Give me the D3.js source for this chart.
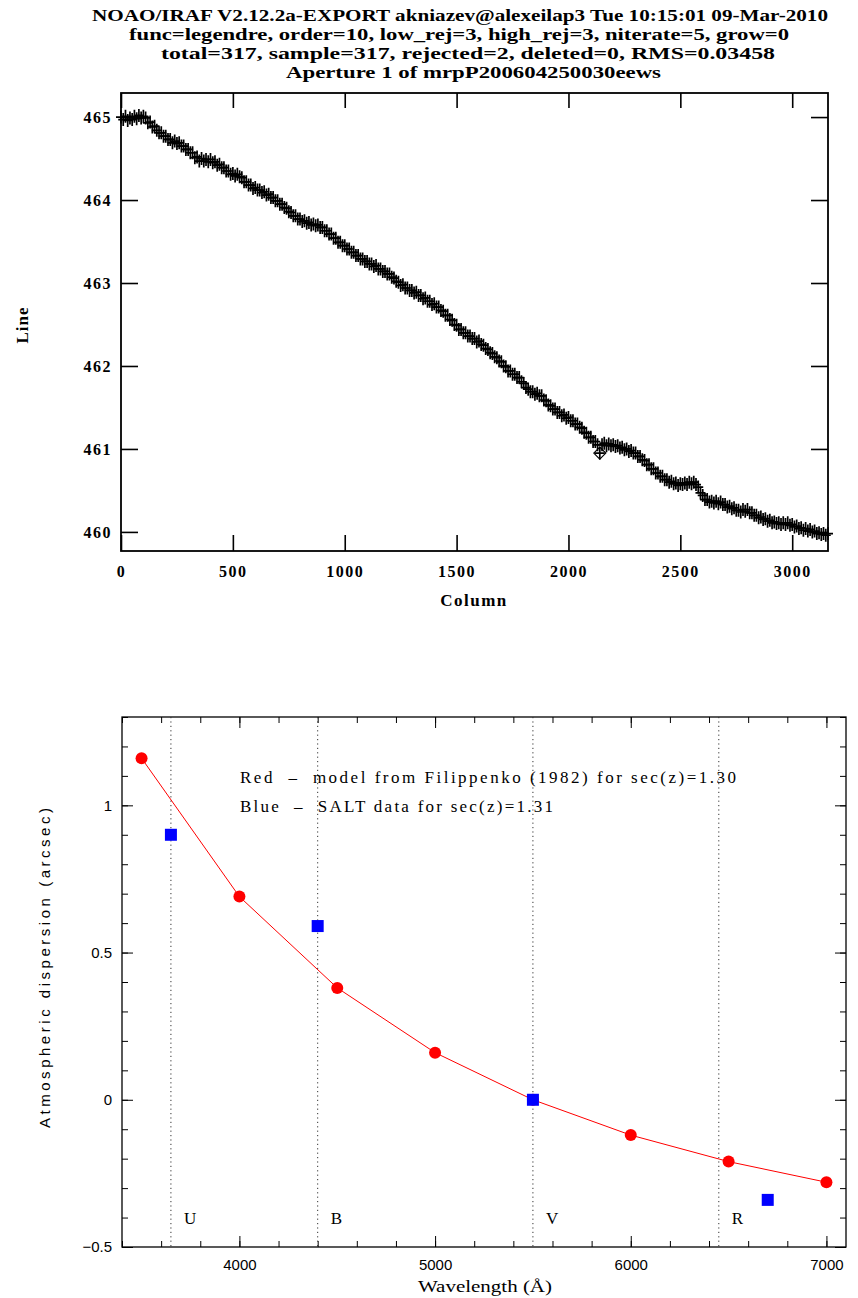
<!DOCTYPE html>
<html>
<head>
<meta charset="utf-8">
<script src="https://cdn.jsdelivr.net/npm/d3@7"></script>
<style>
  body { margin: 0; background: #fff; }
  svg { display: block; }
</style>
</head>
<body>
<div id="chart"></div>
<script>
// header lines printed by IRAF
var titleLines = [
    "NOAO/IRAF V2.12.2a-EXPORT akniazev@alexeilap3 Tue 10:15:01 09-Mar-2010",
    "func=legendre, order=10, low_rej=3, high_rej=3, niterate=5, grow=0",
    "total=317, sample=317, rejected=2, deleted=0, RMS=0.03458",
    "Aperture 1 of mrpP200604250030eews"
];

// trace: line position vs column (317 samples, 10 columns apart)
var traceCols = d3.range(0, 3170, 10);
var traceLines = [
    465.00, 464.97, 465.01, 464.96, 464.99, 464.97, 465.01, 464.98, 465.02, 464.99,
    465.01, 464.99, 464.93, 464.94, 464.88, 464.89, 464.84, 464.81, 464.81, 464.77,
    464.77, 464.73, 464.73, 464.69, 464.71, 464.68, 464.69, 464.65, 464.65, 464.61,
    464.61, 464.57, 464.57, 464.51, 464.52, 464.47, 464.50, 464.47, 464.49, 464.46,
    464.49, 464.45, 464.46, 464.42, 464.43, 464.39, 464.39, 464.35, 464.35, 464.31,
    464.32, 464.29, 464.31, 464.28, 464.27, 464.22, 464.22, 464.18, 464.18, 464.14,
    464.15, 464.12, 464.12, 464.09, 464.10, 464.06, 464.07, 464.03, 464.03, 463.99,
    463.99, 463.95, 463.95, 463.91, 463.90, 463.86, 463.85, 463.81, 463.81, 463.77,
    463.77, 463.74, 463.75, 463.72, 463.73, 463.70, 463.71, 463.69, 463.70, 463.67,
    463.67, 463.63, 463.63, 463.59, 463.59, 463.54, 463.54, 463.49, 463.49, 463.45,
    463.45, 463.41, 463.41, 463.37, 463.37, 463.33, 463.33, 463.29, 463.29, 463.26,
    463.26, 463.23, 463.23, 463.20, 463.21, 463.17, 463.17, 463.14, 463.14, 463.11,
    463.11, 463.07, 463.06, 463.02, 463.01, 462.97, 462.98, 462.94, 462.94, 462.91,
    462.91, 462.88, 462.89, 462.85, 462.85, 462.81, 462.82, 462.78, 462.78, 462.74,
    462.75, 462.71, 462.71, 462.67, 462.66, 462.61, 462.61, 462.56, 462.55, 462.50,
    462.49, 462.44, 462.44, 462.40, 462.40, 462.36, 462.36, 462.33, 462.33, 462.29,
    462.30, 462.26, 462.25, 462.21, 462.20, 462.16, 462.15, 462.11, 462.10, 462.06,
    462.05, 462.00, 461.99, 461.94, 461.94, 461.90, 461.90, 461.86, 461.86, 461.81,
    461.79, 461.74, 461.72, 461.69, 461.69, 461.66, 461.67, 461.64, 461.64, 461.59,
    461.58, 461.53, 461.52, 461.48, 461.48, 461.44, 461.44, 461.40, 461.41, 461.37,
    461.38, 461.34, 461.34, 461.30, 461.30, 461.26, 461.25, 461.20, 461.19, 461.14,
    461.14, 461.09, 461.09, 461.05, 460.95, 461.05, 461.07, 461.04, 461.06, 461.04,
    461.05, 461.03, 461.04, 461.01, 461.02, 460.99, 461.00, 460.97, 460.98, 460.95,
    460.95, 460.91, 460.91, 460.87, 460.86, 460.81, 460.81, 460.76, 460.76, 460.71,
    460.71, 460.67, 460.67, 460.63, 460.63, 460.60, 460.61, 460.58, 460.59, 460.56,
    460.58, 460.57, 460.59, 460.57, 460.60, 460.58, 460.60, 460.57, 460.54, 460.47,
    460.44, 460.39, 460.39, 460.36, 460.37, 460.35, 460.37, 460.34, 460.36, 460.33,
    460.33, 460.30, 460.31, 460.28, 460.29, 460.26, 460.26, 460.24, 460.27, 460.25,
    460.27, 460.23, 460.23, 460.20, 460.20, 460.17, 460.18, 460.15, 460.16, 460.13,
    460.14, 460.11, 460.12, 460.10, 460.11, 460.09, 460.11, 460.09, 460.11, 460.08,
    460.09, 460.06, 460.07, 460.04, 460.05, 460.02, 460.04, 460.01, 460.03, 460.00,
    460.01, 459.98, 459.99, 459.97, 459.98, 459.96, 459.98
];
var rejectedIdx = [214];
var traceXTicks = [0, 500, 1000, 1500, 2000, 2500, 3000];
var traceYTicks = [460, 461, 462, 463, 464, 465];

// atmospheric dispersion
var modelWave = [3500, 4000, 4500, 5000, 5500, 6000, 6500, 7000];
var modelDisp = [1.16, 0.69, 0.38, 0.16, 0.0, -0.12, -0.21, -0.28];
var saltWave = [3650, 4400, 5500, 6700];
var saltDisp = [0.90, 0.59, 0.0, -0.34];
var bandWave = [3650, 4400, 5500, 6450];
var bandNames = ["U", "B", "V", "R"];
var dispXTicks = [4000, 5000, 6000, 7000];
var dispYTicks = [-0.5, 0, 0.5, 1];
var legendLines = [
    "Red  \u2013  model from Filippenko (1982) for sec(z)=1.30",
    "Blue  \u2013  SALT data for sec(z)=1.31"
];

var irafFont = "'Liberation Serif', 'DejaVu Serif', serif";
var plotFont = "'Liberation Sans', 'DejaVu Sans', sans-serif";
var legendFont = "'Liberation Serif', serif";

var svg = d3.select("#chart").append("svg")
    .attr("width", 858)
    .attr("height", 1298);

// ---------- header ----------
var titleX = [92, 129, 161, 286];
var titleY = [21, 40, 59, 78];
var titleW = [736, 660, 614, 375];
svg.append("g").selectAll("text")
    .data(titleLines)
    .enter().append("text")
    .attr("x", function (d, i) { return titleX[i]; })
    .attr("y", function (d, i) { return titleY[i]; })
    .attr("textLength", function (d, i) { return titleW[i]; })
    .attr("lengthAdjust", "spacingAndGlyphs")
    .style("font-family", irafFont)
    .style("font-weight", "bold")
    .style("font-size", "16px")
    .text(function (d) { return d; });

// ---------- top panel: trace ----------
var x1 = d3.scaleLinear().domain([0, 3160]).range([121, 828]);
var y1 = d3.scaleLinear().domain([459.77, 465.29]).range([551, 93]);

var tracePanel = svg.append("g");

var styleIraf = function (sel) {
    sel.select(".domain").remove();
    sel.selectAll("line").attr("stroke", "#000").attr("stroke-width", 1.6);
    sel.selectAll("text")
        .attr("fill", "#000")
        .style("font-family", irafFont)
        .style("font-weight", "bold")
        .style("font-size", "16px")
        .style("letter-spacing", "1.5px");
};

tracePanel.append("g")
    .attr("transform", "translate(0,551)")
    .call(d3.axisBottom(x1).tickValues(traceXTicks).tickSize(-16).tickPadding(15).tickFormat(d3.format("d")))
    .call(styleIraf);
tracePanel.append("g")
    .attr("transform", "translate(0,93)")
    .call(d3.axisTop(x1).tickValues(traceXTicks).tickSize(-15).tickFormat(""))
    .call(styleIraf);
tracePanel.append("g")
    .attr("transform", "translate(121,0)")
    .call(d3.axisLeft(y1).tickValues(traceYTicks).tickSize(-17).tickPadding(9).tickFormat(d3.format("d")))
    .call(styleIraf);
tracePanel.append("g")
    .attr("transform", "translate(828,0)")
    .call(d3.axisRight(y1).tickValues(traceYTicks).tickSize(-17).tickFormat(""))
    .call(styleIraf);

tracePanel.append("rect")
    .attr("x", 121).attr("y", 93)
    .attr("width", 707).attr("height", 458)
    .attr("fill", "none")
    .attr("stroke", "#000")
    .attr("stroke-width", 1.8);

// one "+" per sample
tracePanel.append("g")
    .attr("stroke", "#000")
    .attr("stroke-width", 1.7)
    .selectAll("path")
    .data(traceLines)
    .enter().append("path")
    .attr("d", function (d, i) {
        var cx = x1(traceCols[i]), cy = y1(d);
        return "M" + (cx - 5) + "," + cy + "H" + (cx + 5)
            + "M" + cx + "," + (cy - 6.5) + "V" + (cy + 6.5);
    });

tracePanel.append("g")
    .selectAll("path")
    .data(rejectedIdx)
    .enter().append("path")
    .attr("fill", "none")
    .attr("stroke", "#000")
    .attr("stroke-width", 1.2)
    .attr("d", function (k) {
        var cx = x1(traceCols[k]), cy = y1(traceLines[k]);
        return "M" + (cx - 6) + "," + cy + "L" + cx + "," + (cy - 6)
            + "L" + (cx + 6) + "," + cy + "L" + cx + "," + (cy + 6) + "Z";
    });

tracePanel.append("text")
    .attr("x", 474).attr("y", 606)
    .attr("text-anchor", "middle")
    .style("font-family", irafFont)
    .style("font-weight", "bold")
    .style("font-size", "17px")
    .style("letter-spacing", "1.5px")
    .text("Column");

tracePanel.append("text")
    .attr("transform", "translate(28,325) rotate(-90)")
    .attr("text-anchor", "middle")
    .style("font-family", irafFont)
    .style("font-weight", "bold")
    .style("font-size", "17px")
    .style("letter-spacing", "1px")
    .text("Line");

// ---------- bottom panel: dispersion ----------
var x2 = d3.scaleLinear().domain([3400, 7100]).range([122, 846]);
var y2 = d3.scaleLinear().domain([-0.5, 1.3]).range([1247, 717]);

var dispPanel = svg.append("g");

var styleThin = function (sel) {
    sel.select(".domain").remove();
    sel.selectAll("line").attr("stroke", "#000").attr("stroke-width", 1);
    sel.selectAll("text")
        .attr("fill", "#000")
        .style("font-family", plotFont)
        .style("font-size", "15px");
};

var xMinor = d3.range(3400, 7101, 200);
var yMinor = d3.range(-5, 14).map(function (k) { return k / 10; });

dispPanel.append("g")
    .attr("transform", "translate(0,1247)")
    .call(d3.axisBottom(x2).tickValues(xMinor).tickSize(-6).tickFormat(""))
    .call(styleThin);
dispPanel.append("g")
    .attr("transform", "translate(0,1247)")
    .call(d3.axisBottom(x2).tickValues(dispXTicks).tickSize(-11).tickPadding(12).tickFormat(d3.format("d")))
    .call(styleThin);
dispPanel.append("g")
    .attr("transform", "translate(0,717)")
    .call(d3.axisTop(x2).tickValues(xMinor).tickSize(-6).tickFormat(""))
    .call(styleThin);
dispPanel.append("g")
    .attr("transform", "translate(0,717)")
    .call(d3.axisTop(x2).tickValues(dispXTicks).tickSize(-11).tickFormat(""))
    .call(styleThin);
dispPanel.append("g")
    .attr("transform", "translate(122,0)")
    .call(d3.axisLeft(y2).tickValues(yMinor).tickSize(-6).tickFormat(""))
    .call(styleThin);
dispPanel.append("g")
    .attr("transform", "translate(122,0)")
    .call(d3.axisLeft(y2).tickValues(dispYTicks).tickSize(-11).tickPadding(10).tickFormat(function (d) {
        return d < 0 ? "\u2212" + Math.abs(d) : String(d);
    }))
    .call(styleThin);
dispPanel.append("g")
    .attr("transform", "translate(846,0)")
    .call(d3.axisRight(y2).tickValues(yMinor).tickSize(-6).tickFormat(""))
    .call(styleThin);
dispPanel.append("g")
    .attr("transform", "translate(846,0)")
    .call(d3.axisRight(y2).tickValues(dispYTicks).tickSize(-11).tickFormat(""))
    .call(styleThin);

dispPanel.append("rect")
    .attr("x", 122).attr("y", 717)
    .attr("width", 724).attr("height", 530)
    .attr("fill", "none")
    .attr("stroke", "#000")
    .attr("stroke-width", 1.3);

// filter band markers
dispPanel.append("g").selectAll("line")
    .data(bandWave)
    .enter().append("line")
    .attr("x1", function (d) { return x2(d); })
    .attr("x2", function (d) { return x2(d); })
    .attr("y1", 717).attr("y2", 1247)
    .attr("stroke", "#333")
    .attr("stroke-width", 1)
    .attr("stroke-dasharray", "1.2,3.2");

dispPanel.append("g").selectAll("text")
    .data(bandWave)
    .enter().append("text")
    .attr("x", function (d) { return x2(d) + 13; })
    .attr("y", y2(-0.4) + 6)
    .style("font-family", legendFont)
    .style("font-size", "17px")
    .text(function (d, i) { return bandNames[i]; });

var line = d3.line()
    .x(function (d, i) { return x2(modelWave[i]); })
    .y(function (d) { return y2(d); });

dispPanel.append("path")
    .datum(modelDisp)
    .attr("d", line)
    .attr("fill", "none")
    .attr("stroke", "#ff0000")
    .attr("stroke-width", 1);

dispPanel.append("g").selectAll("circle")
    .data(modelDisp)
    .enter().append("circle")
    .attr("cx", function (d, i) { return x2(modelWave[i]); })
    .attr("cy", function (d) { return y2(d); })
    .attr("r", 6)
    .attr("fill", "#ff0000");

dispPanel.append("g").selectAll("rect")
    .data(saltDisp)
    .enter().append("rect")
    .attr("x", function (d, i) { return x2(saltWave[i]) - 6; })
    .attr("y", function (d) { return y2(d) - 6; })
    .attr("width", 12).attr("height", 12)
    .attr("fill", "#0000ff");

var legendW = [496, 313];
dispPanel.append("g").selectAll("text")
    .data(legendLines)
    .enter().append("text")
    .attr("x", 240)
    .attr("y", function (d, i) { return 783 + i * 29; })
    .attr("textLength", function (d, i) { return legendW[i]; })
    .attr("lengthAdjust", "spacing")
    .style("font-family", legendFont)
    .style("font-size", "17px")
    .style("white-space", "pre")
    .text(function (d) { return d; });

dispPanel.append("text")
    .attr("x", 485).attr("y", 1292)
    .attr("text-anchor", "middle")
    .attr("textLength", 134)
    .attr("lengthAdjust", "spacingAndGlyphs")
    .style("font-family", irafFont)
    .style("font-size", "16px")
    .text("Wavelength (\u00c5)");

dispPanel.append("text")
    .attr("transform", "translate(50,968) rotate(-90)")
    .attr("text-anchor", "middle")
    .attr("textLength", 320)
    .attr("lengthAdjust", "spacing")
    .style("font-family", plotFont)
    .style("font-size", "15px")
    .text("Atmospheric dispersion (arcsec)");
</script>
</body>
</html>
